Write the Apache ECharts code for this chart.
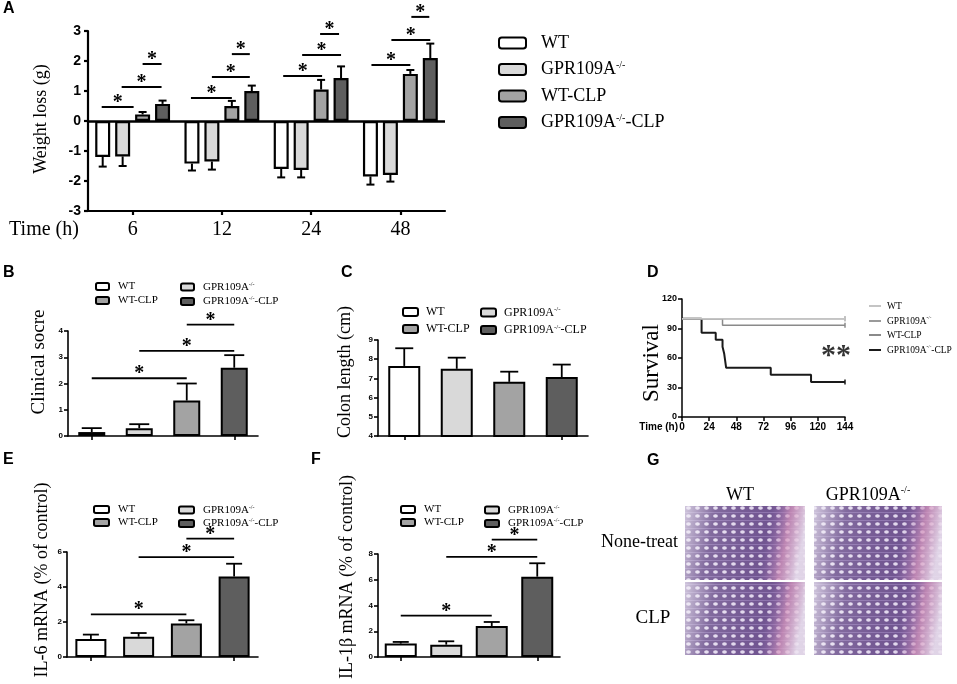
<!DOCTYPE html>
<html><head><meta charset="utf-8">
<script src="https://cdn.jsdelivr.net/npm/echarts@6/dist/echarts.min.js"></script>
<style>html,body{margin:0;padding:0;background:#fff}#c{width:957px;height:684px}</style>
</head><body><div id="c"></div>
<script>
// ---------- data ----------
const groups = ['WT', 'GPR109A-/-', 'WT-CLP', 'GPR109A-/--CLP'];
const barColors = ['#ffffff', '#d9d9d9', '#a3a3a3', '#5e5e5e'];

// A: weight loss
const timeLabels = ['6', '12', '24', '48'];
const weightWT = [-1.20, -1.42, -1.60, -1.85];
const weightKO = [-1.18, -1.35, -1.63, -1.80];
const weightWTCLP = [0.22, 0.50, 1.05, 1.57];
const weightKOCLP = [0.57, 1.00, 1.43, 2.10];
const weightErrWT = [-1.52, -1.65, -1.88, -2.12];
const weightErrKO = [-1.50, -1.62, -1.88, -2.02];
const weightErrWTCLP = [0.30, 0.67, 1.37, 1.70];
const weightErrKOCLP = [0.68, 1.18, 1.82, 2.58];
// [time index, from bar, to bar, y]
const weightSig = [
  [0, -0.05, 1.55, 0.47], [0, 0.95, 2.95, 1.13], [0, 2.0, 2.95, 1.90],
  [1, -0.05, 2.0, 0.77], [1, 1.0, 2.9, 1.47], [1, 2.0, 2.9, 2.23],
  [2, 0.1, 2.05, 1.50], [2, 1.05, 3.0, 2.20], [2, 1.95, 2.9, 2.90],
  [3, 0.05, 2.0, 1.87], [3, 1.05, 3.0, 2.70], [3, 2.05, 2.95, 3.47]
];
// B: clinical score
const scoreMean = [0.15, 0.30, 1.35, 2.60];
const scoreErr = [0.30, 0.45, 2.00, 3.08];
const scoreSig = [[0, 2, 2.20], [1, 3, 3.24], [2, 3, 4.24]];
// C: colon length
const colonMean = [7.65, 7.50, 6.82, 7.07];
const colonErr = [8.57, 8.08, 7.35, 7.72];
// D: survival
const survWT = [[0, 100], [144, 100]];
const survKO = [[0, 100], [144, 100]];
const survWTCLP = [[0, 100], [35.8, 93.3], [144, 93.3]];
const survKOCLP = [[0, 100], [17.3, 85.7], [29.8, 78.6], [35.8, 71.4], [37.3, 64.3], [39, 50], [78.4, 42.9], [114, 35.7], [144, 35.7]];
const survStarPos = [136, 62];
const survTicks = [0, 24, 48, 72, 96, 120, 144];
// E: IL-6
const il6Mean = [1.03, 1.16, 1.92, 4.60];
const il6Err = [1.28, 1.37, 2.10, 5.33];
const il6Sig = [[0, 2, 2.44], [1, 3, 5.71], [2, 3, 6.76]];
// F: IL-1b
const il1Mean = [1.04, 0.96, 2.41, 6.24];
const il1Err = [1.17, 1.22, 2.72, 7.28];
const il1Sig = [[0, 2, 3.21], [1, 3, 7.77], [2, 3, 9.12]];

// ---------- helpers ----------
const serif = "'Liberation Serif','Times New Roman',serif";
const sans = "'Liberation Sans',Arial,sans-serif";

function fmtName(name) {
  const g = name.split('|')[1];
  return '{n|' + g.replace('-/-', '}{s|-/-}{n|') + '}';
}
function legend(names, left, top, fs, lh, gap, bw, bh, pad) {
  return {
    left, top, padding: 0, orient: 'vertical', data: names, itemWidth: bw, itemHeight: bh, itemGap: gap,
    selectedMode: false, formatter: fmtName,
    textStyle: {
      color: '#000', fontFamily: serif, fontSize: fs, padding: [0, 0, 0, pad],
      rich: {
        n: { fontFamily: serif, fontSize: fs, lineHeight: lh, color: '#000' },
        s: { fontFamily: serif, fontSize: Math.round(fs * 0.55), lineHeight: lh, verticalAlign: 'top', color: '#000', padding: [0, 0, Math.round(fs * 0.45), 0] }
      }
    }
  };
}
function valAxis(gi, min, max, interval, fs, lw, margin) {
  return {
    type: 'value', gridIndex: gi, min, max, interval,
    splitLine: { show: false },
    axisLine: { show: true, lineStyle: { color: '#000', width: lw } },
    axisTick: { show: true, length: 4, lineStyle: { color: '#000', width: lw } },
    axisLabel: { color: '#000', fontFamily: sans, fontWeight: 'bold', fontSize: fs, margin }
  };
}
function catAxis(gi, data, showLabel, lw) {
  return {
    type: 'category', gridIndex: gi, data,
    axisLine: { show: true, onZero: false, lineStyle: { color: '#000', width: lw } },
    axisTick: { show: true, alignWithLabel: true, length: 4, lineStyle: { color: '#000', width: lw } },
    axisLabel: showLabel ? { color: '#000', fontFamily: serif, fontSize: 20, margin: 9 } : { show: false }
  };
}
function starText(x, y, fs) {
  return { type: 'text', x: x, y: y, style: { text: '*', fill: '#000', font: 'bold ' + fs + 'px ' + serif, align: 'center', verticalAlign: 'middle', textAlign: 'center', textVerticalAlign: 'middle' } };
}

const series = [];
const legends = [];

// ---------- panel A ----------
const weightMeans = [weightWT, weightKO, weightWTCLP, weightKOCLP];
const weightErrs = [weightErrWT, weightErrKO, weightErrWTCLP, weightErrKOCLP];
const aNames = groups.map(g => 'A|' + g);
weightMeans.forEach((vals, i) => {
  const s = {
    name: aNames[i], type: 'bar', xAxisIndex: 0, yAxisIndex: 0, data: vals,
    barWidth: 15, barGap: '33%',
    itemStyle: { color: barColors[i], borderColor: '#000', borderWidth: 2.2 }
  };
  if (i === 0) s.markLine = { silent: true, symbol: 'none', label: { show: false }, lineStyle: { color: '#000', width: 2.5, type: 'solid' }, data: [{ yAxis: 0 }] };
  series.push(s);
});
const aErrData = [];
weightMeans.forEach((vals, i) => vals.forEach((v, j) => aErrData.push([j, i, v, weightErrs[i][j]])));
series.push({
  type: 'custom', xAxisIndex: 0, yAxisIndex: 0, data: aErrData, encode: { x: 0, y: [2, 3] }, z: 3,
  renderItem(params, api) {
    const p0 = api.coord([api.value(0), api.value(2)]);
    const p1 = api.coord([api.value(0), api.value(3)]);
    const x = p0[0] + (api.value(1) - 1.5) * 19.95;
    const st = { stroke: '#000', lineWidth: 2 };
    return { type: 'group', children: [
      { type: 'line', shape: { x1: x, y1: p0[1], x2: x, y2: p1[1] }, style: st },
      { type: 'line', shape: { x1: x - 4, y1: p1[1], x2: x + 4, y2: p1[1] }, style: st }
    ] };
  }
});
series.push({
  type: 'custom', xAxisIndex: 0, yAxisIndex: 0, data: weightSig, encode: { x: 0, y: 3 }, z: 3,
  renderItem(params, api) {
    const p = api.coord([api.value(0), api.value(3)]);
    const x1 = p[0] + (api.value(1) - 1.5) * 19.95;
    const x2 = p[0] + (api.value(2) - 1.5) * 19.95;
    return { type: 'group', children: [
      { type: 'line', shape: { x1, y1: p[1], x2, y2: p[1] }, style: { stroke: '#000', lineWidth: 2 } },
      starText((x1 + x2) / 2, p[1] - 4, 20)
    ] };
  }
});
legends.push(legend(aNames, 498, 34, 18, 18, 8.5, 27, 11, 10));

// ---------- bar panels B, C, E, F ----------
const barPanels = [
  { key: 'B', gi: 1, mean: scoreMean, err: scoreErr, sig: scoreSig, barW: 27, cap: 10, leg: [95, 180, 281, 11, 12, 3, 13, 7, 4] },
  { key: 'C', gi: 2, mean: colonMean, err: colonErr, sig: [], barW: 32, cap: 9, leg: [402, 480, 306, 12, 13, 5, 15, 8, 3] },
  { key: 'E', gi: 4, mean: il6Mean, err: il6Err, sig: il6Sig, barW: 31, cap: 8, leg: [93, 178, 504, 11, 12, 2, 15, 7, 4] },
  { key: 'F', gi: 5, mean: il1Mean, err: il1Err, sig: il1Sig, barW: 32, cap: 8, leg: [400, 484, 504, 11, 12, 2, 14, 7, 4] }
];
barPanels.forEach(p => {
  const names = groups.map(g => p.key + '|' + g);
  p.mean.forEach((m, i) => {
    series.push({
      name: names[i], type: 'bar', xAxisIndex: p.gi, yAxisIndex: p.gi,
      data: p.mean.map((v, j) => j === i ? v : '-'),
      barWidth: p.barW, barGap: '-100%',
      itemStyle: { color: barColors[i], borderColor: '#000', borderWidth: 2 }
    });
  });
  series.push({
    type: 'custom', xAxisIndex: p.gi, yAxisIndex: p.gi, z: 3,
    data: p.mean.map((m, i) => [i, m, p.err[i]]), encode: { x: 0, y: [1, 2] },
    renderItem(params, api) {
      const p0 = api.coord([api.value(0), api.value(1)]);
      const p1 = api.coord([api.value(0), api.value(2)]);
      const st = { stroke: '#000', lineWidth: 1.8 };
      return { type: 'group', children: [
        { type: 'line', shape: { x1: p0[0], y1: p0[1], x2: p1[0], y2: p1[1] }, style: st },
        { type: 'line', shape: { x1: p1[0] - p.cap, y1: p1[1], x2: p1[0] + p.cap, y2: p1[1] }, style: st }
      ] };
    }
  });
  if (p.sig.length) {
    series.push({
      type: 'custom', xAxisIndex: p.gi, yAxisIndex: p.gi, z: 3,
      data: p.sig, encode: { x: [0, 1], y: 2 },
      renderItem(params, api) {
        const a = api.coord([api.value(0), api.value(2)]);
        const b = api.coord([api.value(1), api.value(2)]);
        return { type: 'group', children: [
          { type: 'line', shape: { x1: a[0], y1: a[1], x2: b[0], y2: b[1] }, style: { stroke: '#000', lineWidth: 1.8 } },
          starText((a[0] + b[0]) / 2, a[1] - 4, 20)
        ] };
      }
    });
  }
  const L = p.leg;
  legends.push(legend([names[0], names[2]], L[0], L[2], L[3], L[4], L[5], L[6], L[7], L[8]));
  legends.push(legend([names[1], names[3]], L[1], L[2], L[3], L[4], L[5], L[6], L[7], L[8]));
});

// ---------- panel D ----------
const dNames = groups.map(g => 'D|' + g);
const survSets = [survWT, survKO, survWTCLP, survKOCLP];
const survColors = ['#c4c4c4', '#9a9a9a', '#8a8a8a', '#1a1a1a'];
const survWidths = [1.5, 1.5, 1.5, 2];
[3, 2, 1, 0].forEach(i => {
  const pts = survSets[i].map((pt, k, arr) => k === arr.length - 1
    ? { value: pt, symbol: 'rect', symbolSize: [1.5, 5] } : { value: pt });
  series.push({
    name: dNames[i], type: 'line', xAxisIndex: 3, yAxisIndex: 3, step: 'end',
    data: pts, symbol: 'none', showSymbol: true,
    lineStyle: { color: survColors[i], width: survWidths[i] },
    itemStyle: { color: survColors[i] }, z: 2 + (3 - i)
  });
});
series.push({
  type: 'scatter', xAxisIndex: 3, yAxisIndex: 3, data: [survStarPos], symbolSize: 0,
  label: { show: true, position: 'inside', formatter: '**', color: '#000', fontFamily: serif, fontSize: 30, fontWeight: 'bold' }
});
const dLeg = legend(dNames, 869, 301, 9.5, 12, 4, 12, 2, 1);
dLeg.icon = 'rect';
legends.push(dLeg);

// ---------- graphic texts / image panel ----------
function label(text, x, y, fs, opts) {
  return Object.assign({ type: 'text', x, y, style: { text, fill: '#000', font: fs + 'px ' + serif, align: 'center', verticalAlign: 'middle', textAlign: 'center', textVerticalAlign: 'middle' } }, opts || {});
}
function vlabel(text, x, y, fs) { return label(text, x, y, fs, { rotation: Math.PI / 2 }); }
function letter(t, x, y) {
  return { type: 'text', x, y, style: { text: t, fill: '#000', font: 'bold 16px ' + sans, align: 'left', verticalAlign: 'middle', textAlign: 'left', textVerticalAlign: 'middle' } };
}
const supRich = { n: { fontFamily: serif, fontSize: 18, color: '#000', lineHeight: 20 }, s: { fontFamily: serif, fontSize: 10, color: '#000', lineHeight: 20, verticalAlign: 'top', padding: [0, 0, 8, 0] } };

// tissue pattern
const tile = document.createElement('canvas');
tile.width = 9; tile.height = 8;
(function () {
  const c = tile.getContext('2d');
  c.fillStyle = '#6f548f'; c.fillRect(0, 0, 9, 8);
  c.fillStyle = '#e6def0';
  c.beginPath(); c.ellipse(4.5, 4, 2.4, 1.8, 0, 0, Math.PI * 2); c.fill();
  c.fillStyle = '#8d74ad'; c.fillRect(0, 0, 9, 1);
})();
function tissue(x, y, w, h) {
  return [
    { type: 'rect', shape: { x, y, width: w, height: h }, style: { fill: { image: tile, repeat: 'repeat' } } },
    { type: 'rect', shape: { x, y, width: w, height: h }, style: { fill: new echarts.graphic.LinearGradient(0, 0, 1, 0.3, [
      { offset: 0, color: 'rgba(240,236,246,0.75)' }, { offset: 0.25, color: 'rgba(240,236,246,0.15)' },
      { offset: 0.7, color: 'rgba(150,110,180,0.05)' }, { offset: 0.86, color: 'rgba(214,150,190,0.75)' },
      { offset: 1, color: 'rgba(236,226,240,0.9)' }]) } }
  ];
}
const graphics = [
  letter('A', 3, 9), letter('B', 3, 273), letter('C', 341, 273), letter('D', 647, 273),
  letter('E', 3, 460), letter('F', 311, 460), letter('G', 647, 461),
  vlabel('Weight loss (g)', 41, 119, 18),
  label('Time (h)', 44, 230, 20),
  vlabel('Clinical socre', 39, 362, 19),
  vlabel('Colon length (cm)', 345, 372, 18),
  vlabel('Survival', 652, 363, 23),
  { type: 'text', x: 678, y: 427, style: { text: 'Time (h)', fill: '#000', font: 'bold 10px ' + sans, align: 'right', verticalAlign: 'middle', textAlign: 'right', textVerticalAlign: 'middle' } },
  vlabel('IL-6 mRNA (% of control)', 42, 580, 18),
  vlabel('IL-1β mRNA (% of control)', 347, 577, 18),
  label('WT', 740, 495, 18),
  { type: 'text', x: 868, y: 495, style: { text: '{n|GPR109A}{s|-/-}', rich: supRich, align: 'center', verticalAlign: 'middle', textAlign: 'center', textVerticalAlign: 'middle' } },
  { type: 'text', x: 678, y: 542, style: { text: 'None-treat', fill: '#000', font: '18px ' + serif, align: 'right', verticalAlign: 'middle', textAlign: 'right', textVerticalAlign: 'middle' } },
  label('CLP', 653, 618, 19)
].concat(tissue(685, 506, 120, 74), tissue(814, 506, 128, 74), tissue(685, 582, 120, 73), tissue(814, 582, 128, 73));

// ---------- option ----------
const cat4 = groups.slice();
const option = {
  animation: false,
  backgroundColor: '#fff',
  grid: [
    { left: 88, top: 31, width: 357, height: 180 },
    { left: 68, top: 331, width: 190, height: 105 },
    { left: 378, top: 340, width: 210, height: 96 },
    { left: 682, top: 299, width: 163, height: 118 },
    { left: 67, top: 552, width: 191, height: 105 },
    { left: 378, top: 554, width: 182, height: 103 }
  ],
  xAxis: [
    catAxis(0, timeLabels, true, 2.2),
    catAxis(1, cat4, false, 1.6),
    catAxis(2, cat4, false, 1.6),
    valAxis(3, survTicks[0], survTicks[survTicks.length - 1], 24, 10, 1.5, 5),
    catAxis(4, cat4, false, 1.6),
    catAxis(5, cat4, false, 1.6)
  ],
  yAxis: [
    valAxis(0, -3, 3, 1, 14, 2.2, 7),
    valAxis(1, 0, 4, 1, 8, 1.6, 5),
    valAxis(2, 4, 9, 1, 8, 1.6, 5),
    valAxis(3, 0, 120, 30, 9, 1.5, 5),
    valAxis(4, 0, 6, 2, 8, 1.6, 5),
    valAxis(5, 0, 8, 2, 8, 1.6, 5)
  ],
  legend: legends,
  series,
  graphic: { elements: graphics }
};
const chart = echarts.init(document.getElementById('c'), null, { renderer: 'canvas' });
chart.setOption(option);
</script></body></html>
